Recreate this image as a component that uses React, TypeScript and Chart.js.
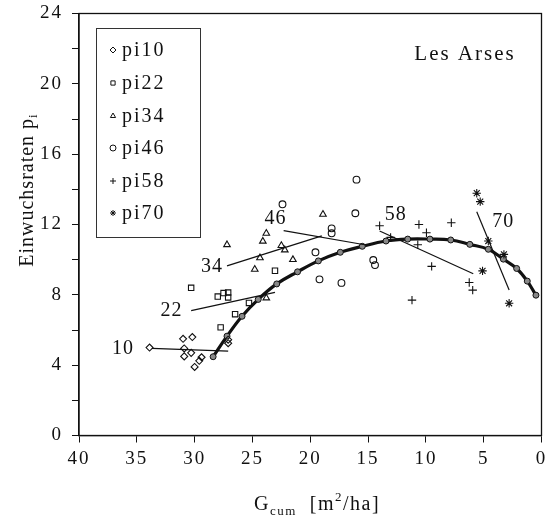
import React, { useEffect, useRef } from 'react';
import { Chart, registerables } from 'chart.js';
import { drawPoint } from 'chart.js/helpers';

Chart.register(...registerables);

// ---- data ----
const pi10X = [33.9, 31.0, 30.2, 30.9, 30.3, 30.9, 29.4, 29.6, 30.0, 27.1, 27.1];
const pi10Y = [5.0, 5.5, 5.6, 4.95, 4.7, 4.5, 4.45, 4.25, 3.9, 5.45, 5.25];

const pi22X = [30.3, 28.0, 27.5, 27.1, 27.1, 23.05, 25.3, 26.5, 27.75];
const pi22Y = [8.4, 7.9, 8.1, 8.13, 7.85, 9.37, 7.54, 6.9, 6.15];

const pi34X = [27.2, 23.8, 24.1, 24.35, 24.8, 22.5, 22.2, 21.5, 18.9, 23.8];
const pi34Y = [10.85, 11.5, 11.05, 10.1, 9.45, 10.8, 10.55, 10.0, 12.58, 7.82];

const pi46X = [22.4, 16.0, 16.1, 18.15, 18.15, 19.55, 14.55, 14.4, 19.2, 17.3];
const pi46Y = [13.15, 14.55, 12.64, 11.78, 11.5, 10.42, 9.98, 9.69, 8.88, 8.68];

const pi58X = [14.0, 10.6, 7.8, 9.95, 13.05, 10.7, 9.5, 11.2, 6.25, 5.95];
const pi58Y = [11.93, 12.0, 12.1, 11.53, 11.27, 10.85, 9.62, 7.7, 8.7, 8.27];

const pi70X = [5.6, 5.3, 4.6, 3.25, 5.1, 2.8];
const pi70Y = [13.78, 13.3, 11.06, 10.3, 9.36, 7.52];

const curveX = [28.4, 27.2, 25.9, 24.5, 22.9, 21.1, 19.3, 17.4, 15.5, 13.45, 11.57, 9.65, 7.85, 6.2, 4.6, 3.3, 2.15, 1.23, 0.48];
const curveY = [4.48, 5.65, 6.78, 7.74, 8.62, 9.31, 9.93, 10.42, 10.76, 11.06, 11.17, 11.17, 11.12, 10.87, 10.59, 10.03, 9.5, 8.78, 7.98];

// short fitted lines: [x1, x2], [y1, y2]
const line10X = [33.7, 27.1];
const line10Y = [4.95, 4.8];
const line22X = [30.3, 23.05];
const line22Y = [7.1, 8.14];
const line34X = [27.2, 19.0];
const line34Y = [9.65, 11.35];
const line46X = [22.3, 15.3];
const line46Y = [11.65, 10.85];
const line58X = [14.0, 5.9];
const line58Y = [11.63, 9.2];
const line70X = [5.6, 2.8];
const line70Y = [12.73, 8.27];

const lineLabels = ['10', '22', '34', '46', '58', '70'];
const lineLabelX = [36.2, 32.0, 28.5, 23.0, 12.6, 3.3];
const lineLabelY = [4.92, 7.1, 9.6, 12.3, 12.54, 12.16];

const seriesNames = ['pi10', 'pi22', 'pi34', 'pi46', 'pi58', 'pi70'];
const seriesStyles = ['rectRot', 'rect', 'triangle', 'circle', 'cross', 'star'];
const seriesRadius = [3.5, 3.8, 3.8, 3.4, 4.2, 4.2];

const xTickMin = 0;
const xTickMax = 40;
const xTickStep = 5;
const yTickMin = 0;
const yTickMax = 24;
const yTickStep = 2;

const FONT = '"Liberation Serif", "Times New Roman", serif';
const INK = '#111';

type Seg = { t: string; s: number; dy?: number };

function drawRich(ctx: CanvasRenderingContext2D, segs: Seg[], cx: number, baseY: number, spacing: number) {
  ctx.save();
  (ctx as any).letterSpacing = spacing + 'px';
  let total = 0;
  const widths = segs.map((sg) => {
    ctx.font = `${sg.s}px ${FONT}`;
    const w = ctx.measureText(sg.t).width;
    total += w;
    return w;
  });
  let x = cx - total / 2;
  ctx.textAlign = 'left';
  ctx.textBaseline = 'alphabetic';
  ctx.fillStyle = INK;
  segs.forEach((sg, i) => {
    ctx.font = `${sg.s}px ${FONT}`;
    ctx.fillText(sg.t, x, baseY + (sg.dy || 0));
    x += widths[i];
  });
  ctx.restore();
}

const decorPlugin = {
  id: 'decor',
  beforeDraw(chart: any) {
    (chart.ctx as any).letterSpacing = '2px';
  },
  afterDraw(chart: any) {
    const ctx: CanvasRenderingContext2D = chart.ctx;
    const { left, right, top, bottom } = chart.chartArea;
    const xs = chart.scales.x;
    const ys = chart.scales.y;

    // frame
    ctx.save();
    ctx.strokeStyle = INK;
    ctx.lineWidth = 1.3;
    ctx.strokeRect(left, top, right - left, bottom - top);
    ctx.restore();

    // line labels
    ctx.save();
    (ctx as any).letterSpacing = '1px';
    ctx.font = `20px ${FONT}`;
    ctx.fillStyle = INK;
    ctx.textAlign = 'center';
    ctx.textBaseline = 'middle';
    lineLabels.forEach((t, i) => {
      ctx.fillText(t, xs.getPixelForValue(lineLabelX[i]), ys.getPixelForValue(lineLabelY[i]));
    });
    ctx.restore();

    // site name
    drawRich(ctx, [{ t: 'Les Arses', s: 21 }], 465, 60, 2);

    // legend
    ctx.save();
    ctx.strokeStyle = '#333';
    ctx.lineWidth = 1;
    ctx.strokeRect(96.5, 28.5, 104, 209);
    const rowY = [50, 83, 116, 148, 181, 213];
    seriesNames.forEach((n, i) => {
      ctx.save();
      ctx.strokeStyle = INK;
      ctx.fillStyle = 'rgba(0,0,0,0)';
      drawPoint(ctx, { pointStyle: seriesStyles[i] as any, radius: 3, rotation: 0, borderWidth: 1.1 }, 113, rowY[i]);
      ctx.restore();
      ctx.save();
      (ctx as any).letterSpacing = '2px';
      ctx.font = `20px ${FONT}`;
      ctx.fillStyle = INK;
      ctx.textAlign = 'left';
      ctx.textBaseline = 'middle';
      ctx.fillText(n, 122, rowY[i] + 1);
      ctx.restore();
    });
    ctx.restore();

    // axis titles
    drawRich(ctx, [
      { t: 'G', s: 20 },
      { t: 'cum', s: 13, dy: 5 },
      { t: '  [m', s: 20 },
      { t: '2', s: 13, dy: -9 },
      { t: '/ha]', s: 20 },
    ], 317, 510, 1.5);

    ctx.save();
    ctx.translate(33, 190);
    ctx.rotate(-Math.PI / 2);
    drawRich(ctx, [
      { t: 'Einwuchsraten p', s: 20 },
      { t: 'i', s: 13, dy: 4 },
    ], 0, 0, 1);
    ctx.restore();
  },
};

export default function App() {
  const ref = useRef<HTMLCanvasElement>(null);

  useEffect(() => {
    if (!ref.current) return;
    const toPts = (xs: number[], ys: number[]) => xs.map((x, i) => ({ x, y: ys[i] }));
    const seriesX = [pi10X, pi22X, pi34X, pi46X, pi58X, pi70X];
    const seriesY = [pi10Y, pi22Y, pi34Y, pi46Y, pi58Y, pi70Y];
    const linesX = [line10X, line22X, line34X, line46X, line58X, line70X];
    const linesY = [line10Y, line22Y, line34Y, line46Y, line58Y, line70Y];

    const datasets: any[] = [];
    linesX.forEach((lx, i) => {
      datasets.push({
        label: 'fit' + lineLabels[i],
        data: toPts(lx, linesY[i]),
        showLine: true,
        borderColor: INK,
        borderWidth: 1.2,
        pointRadius: 0,
        fill: false,
      });
    });
    seriesNames.forEach((n, i) => {
      datasets.push({
        label: n,
        data: toPts(seriesX[i], seriesY[i]),
        showLine: false,
        pointStyle: seriesStyles[i],
        pointRadius: seriesRadius[i],
        pointBorderWidth: 1.1,
        borderColor: INK,
        backgroundColor: 'rgba(0,0,0,0)',
      });
    });
    datasets.push({
      label: 'curve',
      data: toPts(curveX, curveY),
      showLine: true,
      borderColor: INK,
      borderWidth: 3.2,
      tension: 0.4,
      pointRadius: 3,
      pointBorderWidth: 1,
      pointBorderColor: INK,
      pointBackgroundColor: '#888',
      fill: false,
    });

    const chart = new Chart(ref.current, {
      type: 'scatter',
      data: { datasets },
      options: {
        responsive: false,
        animation: false,
        devicePixelRatio: 1,
        layout: { padding: { top: 13.5, right: 5.5, left: 0, bottom: 0 } },
        plugins: { legend: { display: false }, tooltip: { enabled: false } },
        scales: {
          x: {
            type: 'linear',
            reverse: true,
            min: xTickMin,
            max: xTickMax,
            ticks: { stepSize: xTickStep, color: INK, font: { family: FONT, size: 19 }, padding: 5, maxRotation: 0 },
            grid: { display: true, drawOnChartArea: false, drawTicks: true, tickLength: 7, color: INK, lineWidth: 1 },
            border: { display: true, color: INK, width: 1.3 },
            afterFit: (s: any) => {
              s.height = 88.5;
              s.paddingLeft = 0;
              s.paddingRight = 0;
            },
          },
          y: {
            type: 'linear',
            min: yTickMin,
            max: yTickMax,
            ticks: {
              stepSize: yTickStep,
              color: INK,
              font: { family: FONT, size: 19 },
              padding: 9,
              callback: (v: any) => (Number(v) % 4 === 0 ? String(v) : ''),
            },
            grid: { display: true, drawOnChartArea: false, drawTicks: true, tickLength: 7, color: INK, lineWidth: 1 },
            border: { display: true, color: INK, width: 1.3 },
            afterFit: (s: any) => {
              s.width = 79;
              s.paddingTop = 0;
              s.paddingBottom = 0;
            },
          },
        },
      },
      plugins: [decorPlugin],
    } as any);

    return () => chart.destroy();
  }, []);

  return (
    <div style={{ position: 'fixed', left: 0, top: 0, width: 547, height: 524, background: '#fff' }}>
      <canvas ref={ref} width={547} height={524} style={{ display: 'block', width: 547, height: 524 }} />
    </div>
  );
}
